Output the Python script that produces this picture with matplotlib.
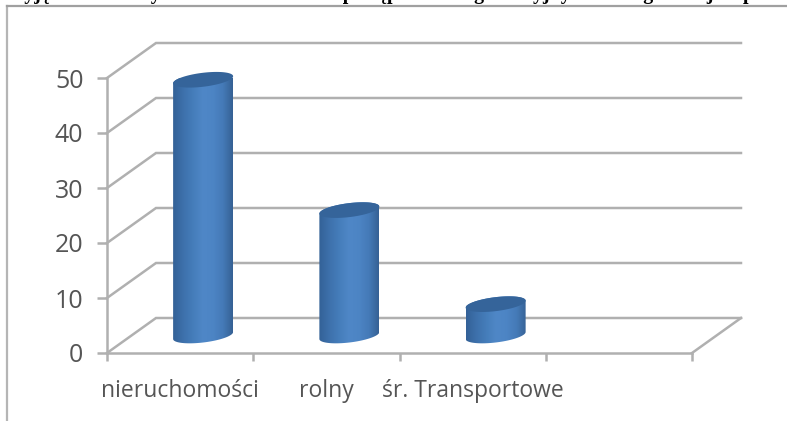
import numpy as np
import matplotlib
matplotlib.use("Agg")
import matplotlib.pyplot as plt
from matplotlib.patches import Polygon

categories = ["nieruchomości", "rolny", "śr. Transportowe", ""]
values = [46.5, 22.8, 5.7]
yticks = [0, 10, 20, 30, 40, 50]
# gorny tekst, prawie caly uciety przez krawedz obrazka
top_text = "Wyjęcie na wierzytelności należności w postępowaniu egzekucyjnym według rodzajów podatków"

W, H = 787, 421
LEFT, RIGHT, BOTTOM, TOP = 107, 692, 353, 78
GRAY = "#b0b0b0"
TXT = "#555555"
LW = 1.8

# glebia wykresu 3d w pikselach
px_x = (RIGHT - LEFT) / 4
px_y = (BOTTOM - TOP) / 50
depth_x = 49 / px_x
depth_y = 35 / px_y

# gradient walca, od lewej do prawej
grad = np.array([[0.20, 0.38, 0.59], [0.24, 0.44, 0.67], [0.27, 0.49, 0.73],
                 [0.31, 0.53, 0.78], [0.30, 0.52, 0.77], [0.27, 0.48, 0.72],
                 [0.21, 0.38, 0.58]])


def ellipse(cx, cy, a, b, s, t):
    return cx + a * np.cos(t), cy + b * np.sin(t) + s * np.cos(t)


def cylinder(ax, cx, val):
    a = 30 / px_x
    b = 7 / px_y
    s = 3.5 / px_y
    y0 = depth_y / 2
    y1 = y0 + val
    t_top = np.linspace(0, np.pi, 60)
    t_bot = np.linspace(np.pi, 2 * np.pi, 60)
    xt, yt = ellipse(cx, y1, a, b, s, t_top)
    xb, yb = ellipse(cx, y0, a, b, s, t_bot)
    body = Polygon(np.column_stack([np.r_[xt, xb], np.r_[yt, yb]]), closed=True,
                   transform=ax.transData, fc="none", ec="none")
    ax.add_patch(body)
    xs = np.linspace(0, len(grad) - 1, 256)
    img = np.stack([np.interp(xs, np.arange(len(grad)), grad[:, i]) for i in range(3)], axis=1)
    im = ax.imshow(img[np.newaxis, :, :], extent=[cx - a, cx + a, y0 - 3, y1 + 3],
                   aspect="auto", zorder=3, interpolation="bilinear")
    im.set_clip_path(body)
    im.set_clip_box(None)
    xe, ye = ellipse(cx, y1, a, b, s, np.linspace(0, 2 * np.pi, 120))
    ax.fill(xe, ye, color="#35649a", zorder=4, lw=0, clip_on=False)


fig = plt.figure(figsize=(W / 100, H / 100), dpi=100)
plt.rcParams["font.family"] = ["Open Sans", "DejaVu Sans"]
ax = fig.add_axes([LEFT / W, 1 - BOTTOM / H, (RIGHT - LEFT) / W, (BOTTOM - TOP) / H])

# sciany: poziome linie z tylu i ukosy po lewej
for v in yticks:
    ax.plot([0, depth_x, 4 + depth_x], [v, v + depth_y, v + depth_y], color=GRAY, lw=LW,
            clip_on=False, zorder=1, solid_joinstyle="miter")
ax.plot([4, 4 + depth_x], [0, depth_y], color=GRAY, lw=LW, clip_on=False, zorder=1)

for i, v in enumerate(values):
    cylinder(ax, i + 0.5 + depth_x / 2 - 1.5 / px_x, v)

ax.set_xlim(0, 4)
ax.set_ylim(0, 50)
for side in ["top", "right"]:
    ax.spines[side].set_visible(False)
for side in ["left", "bottom"]:
    ax.spines[side].set_color(GRAY)
    ax.spines[side].set_linewidth(LW)

ax.set_yticks(yticks)
ax.set_xticks(range(5))
ax.set_xticklabels([])
ax.set_xticks(np.arange(4) + 0.5, minor=True)
ax.set_xticklabels(categories, minor=True)
ax.tick_params(axis="y", length=7, width=LW, color=GRAY, labelsize=18, labelcolor=TXT, pad=10)
ax.tick_params(axis="x", which="major", length=6, width=LW, color=GRAY)
ax.tick_params(axis="x", which="minor", length=0, labelsize=16.5, labelcolor=TXT, pad=18.5)

# ramka zrzutu ekranu
fig.add_artist(plt.Line2D([7 / W, 7 / W], [0, 1 - 6 / H], color="#b5b5b5", lw=1.6))
fig.add_artist(plt.Line2D([7 / W, 1], [1 - 6 / H, 1 - 6 / H], color="#a0a0a0", lw=1.6))

fig.text(5 / W, 1 + 1 / H, top_text, family="Liberation Serif", weight="bold", fontsize=14.4,
         va="baseline", ha="left", color="black")

fig.savefig("out.png", dpi=100)
